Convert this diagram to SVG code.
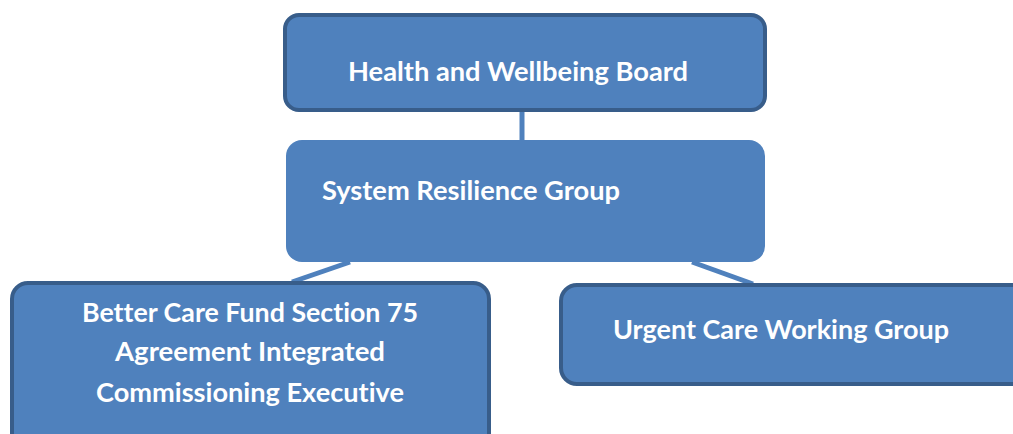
<svg xmlns="http://www.w3.org/2000/svg" width="1013" height="434" viewBox="0 0 1013 434">
  <style>
    .box { fill: #4f81bd; stroke: #385d8a; stroke-width: 4; }
    .plain { fill: #4f81bd; }
    .link { stroke: #4f81bd; stroke-width: 5; fill: none; }
    .label { fill: #ffffff; font-family: Lato, "Open Sans", "Liberation Sans", sans-serif; font-weight: bold; font-size: 26px; font-variant-ligatures: none; }
  </style>
  <rect width="1013" height="434" fill="#ffffff"/>
  <g id="connectors">
    <line class="link" x1="522" y1="110" x2="522" y2="142"/>
    <line class="link" x1="350" y1="262" x2="292" y2="282"/>
    <line class="link" x1="692" y1="262" x2="753" y2="284"/>
  </g>
  <g id="health-wellbeing-board">
    <rect class="box" x="285" y="15" width="480" height="95" rx="14"/>
    <text class="label" x="348" y="81" textLength="340" lengthAdjust="spacingAndGlyphs">Health and Wellbeing Board</text>
  </g>
  <g id="system-resilience-group">
    <rect class="plain" x="286" y="140" width="479" height="122" rx="16"/>
    <text class="label" x="322" y="200" textLength="298" lengthAdjust="spacingAndGlyphs">System Resilience Group</text>
  </g>
  <g id="better-care-fund">
    <rect class="box" x="12" y="283" width="477" height="170" rx="16"/>
    <text class="label" x="82" y="322" textLength="336" lengthAdjust="spacingAndGlyphs">Better Care Fund Section 75</text>
    <text class="label" x="115" y="361" textLength="270" lengthAdjust="spacingAndGlyphs">Agreement Integrated</text>
    <text class="label" x="96" y="402" textLength="308" lengthAdjust="spacingAndGlyphs">Commissioning Executive</text>
  </g>
  <g id="urgent-care-working-group">
    <rect class="box" x="561" y="285" width="480" height="99" rx="16"/>
    <text class="label" x="613" y="339" textLength="336" lengthAdjust="spacingAndGlyphs">Urgent Care Working Group</text>
  </g>
</svg>
